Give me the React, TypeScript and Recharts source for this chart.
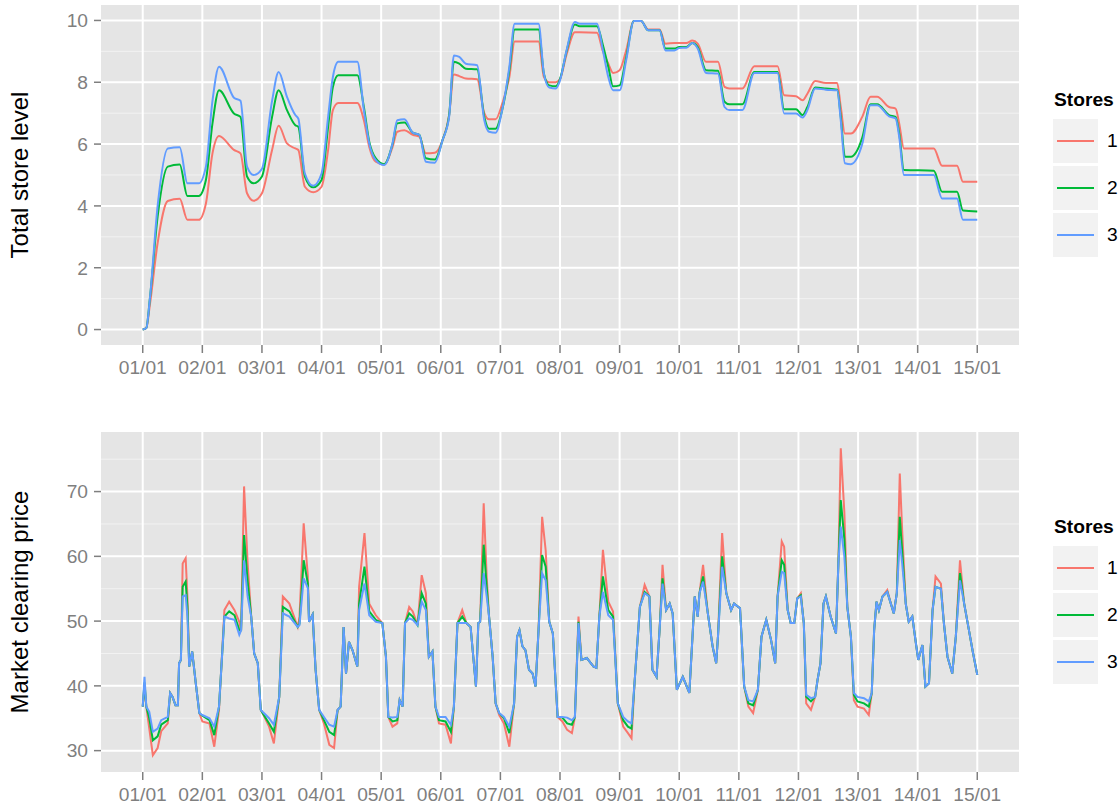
import { LineChart, Line, XAxis, YAxis, CartesianGrid } from "recharts";

const dayTicks = [0, 1, 2, 3, 4, 5, 6, 7, 8, 9, 10, 11, 12, 13, 14];
const dayLabels = [
  "01/01", "02/01", "03/01", "04/01", "05/01", "06/01", "07/01", "08/01",
  "09/01", "10/01", "11/01", "12/01", "13/01", "14/01", "15/01",
];
const storeNames = ["1", "2", "3"];
const storeColors = ["#F8766D", "#00BA38", "#619CFF"];

// store level (days since 01/01)
const levelDays = [
  0, 0.06, 0.12, 0.25, 0.42, 0.62, 0.75, 0.94, 1.06, 1.17,
  1.28, 1.53, 1.64, 1.75, 1.86, 2.0, 2.17, 2.28, 2.42, 2.56,
  2.61, 2.72, 2.86, 3.0, 3.11, 3.19, 3.28, 3.6, 3.71, 3.8,
  3.91, 4.05, 4.19, 4.27, 4.39, 4.53, 4.64, 4.75, 4.9, 5.03,
  5.14, 5.22, 5.31, 5.42, 5.61, 5.73, 5.81, 5.92, 6.03, 6.15,
  6.24, 6.64, 6.73, 6.82, 6.93, 7.0, 7.11, 7.25, 7.33, 7.62,
  7.72, 7.81, 7.89, 8.0, 8.11, 8.24, 8.36, 8.48, 8.67, 8.77,
  8.92, 9.0, 9.12, 9.22, 9.31, 9.45, 9.65, 9.76, 9.84, 10.06,
  10.26, 10.65, 10.76, 10.96, 11.07, 11.15, 11.28, 11.46, 11.65, 11.71,
  11.78, 11.88, 12.07, 12.21, 12.32, 12.52, 12.63, 12.69, 12.77, 13.27,
  13.41, 13.66, 13.76, 14.0,
];
const level1 = [
  0, 0.05, 0.8, 2.8, 4.16, 4.23, 3.55, 3.55, 4.08, 5.7,
  6.26, 5.81, 5.7, 4.41, 4.17, 4.41, 5.81, 6.59, 6.02, 5.86,
  5.81, 4.62, 4.44, 4.62, 5.81, 7.1, 7.33, 7.33, 6.77, 5.91,
  5.43, 5.34, 5.9, 6.4, 6.45, 6.3, 6.24, 5.7, 5.72, 6.13,
  6.94, 8.25, 8.2, 8.12, 8.1, 7.0, 6.8, 6.8, 7.3, 8.17,
  9.32, 9.32, 8.17, 8.0, 8.0, 8.1, 8.9, 9.62, 9.62, 9.6,
  9.0, 8.6, 8.3, 8.39, 9.03, 9.98, 9.98, 9.71, 9.71, 9.25,
  9.27, 9.27, 9.27, 9.35, 9.25, 8.66, 8.66, 7.85, 7.8, 7.8,
  8.52, 8.52, 7.58, 7.55, 7.42, 7.63, 8.04, 7.98, 7.98, 7.2,
  6.34, 6.34, 6.88, 7.53, 7.53, 7.2, 7.15, 6.67, 5.86, 5.86,
  5.3, 5.3, 4.78, 4.78,
];
const level2 = [
  0, 0.05, 1.0, 3.65, 5.27, 5.34, 4.32, 4.32, 4.84, 6.67,
  7.74, 6.99, 6.88, 4.95, 4.73, 4.95, 6.88, 7.74, 7.1, 6.61,
  6.56, 4.95, 4.6, 4.84, 6.56, 7.85, 8.23, 8.23, 7.2, 6.08,
  5.54, 5.35, 6.0, 6.67, 6.7, 6.37, 6.3, 5.54, 5.5, 6.13,
  6.94, 8.66, 8.6, 8.44, 8.42, 6.88, 6.5, 6.5, 7.1, 8.39,
  9.71, 9.71, 8.28, 7.9, 7.87, 8.1, 9.0, 9.87, 9.81, 9.81,
  9.2, 8.5, 7.87, 7.9, 8.8, 9.98, 9.98, 9.68, 9.68, 9.09,
  9.09, 9.14, 9.14, 9.27, 9.14, 8.39, 8.37, 7.37, 7.29, 7.29,
  8.33, 8.33, 7.13, 7.13, 6.94, 7.2, 7.83, 7.8, 7.76, 6.88,
  5.59, 5.59, 6.2, 7.29, 7.29, 6.94, 6.88, 6.35, 5.16, 5.14,
  4.46, 4.46, 3.85, 3.82,
];
const level3 = [
  0, 0.05, 1.0, 4.0, 5.86, 5.9, 4.73, 4.73, 5.27, 7.4,
  8.5, 7.5, 7.4, 5.27, 5.0, 5.2, 7.4, 8.33, 7.53, 6.94,
  6.82, 5.05, 4.65, 5.05, 6.88, 8.17, 8.66, 8.66, 7.1, 6.02,
  5.48, 5.32, 6.02, 6.77, 6.8, 6.37, 6.3, 5.43, 5.4, 6.13,
  6.88, 8.87, 8.82, 8.6, 8.55, 6.77, 6.4, 6.37, 7.1, 8.5,
  9.89, 9.89, 8.28, 7.83, 7.8, 8.06, 9.03, 9.95, 9.89, 9.89,
  9.03, 8.17, 7.74, 7.74, 8.71, 9.98, 9.98, 9.68, 9.68, 9.03,
  9.03, 9.11, 9.12, 9.27, 9.09, 8.3, 8.28, 7.2, 7.1, 7.1,
  8.3, 8.3, 6.99, 6.99, 6.86, 7.1, 7.8, 7.76, 7.74, 6.77,
  5.38, 5.35, 6.0, 7.26, 7.26, 6.9, 6.83, 6.24, 5.0, 5.0,
  4.24, 4.24, 3.55, 3.55,
];

// market clearing price
const priceDays = [
  0, 0.03, 0.06, 0.11, 0.17, 0.25, 0.31, 0.42, 0.46, 0.5,
  0.55, 0.59, 0.61, 0.64, 0.67, 0.72, 0.75, 0.78, 0.83, 0.89,
  0.95, 1.0, 1.12, 1.2, 1.28, 1.37, 1.45, 1.54, 1.62, 1.65,
  1.7, 1.76, 1.82, 1.87, 1.93, 1.98, 2.01, 2.12, 2.2, 2.29,
  2.35, 2.46, 2.6, 2.63, 2.7, 2.77, 2.79, 2.85, 2.9, 2.96,
  3.04, 3.13, 3.21, 3.27, 3.32, 3.37, 3.41, 3.46, 3.52, 3.6,
  3.63, 3.72, 3.8, 3.91, 4.02, 4.08, 4.12, 4.19, 4.27, 4.31,
  4.36, 4.4, 4.47, 4.53, 4.61, 4.68, 4.75, 4.8, 4.86, 4.91,
  4.97, 5.08, 5.17, 5.22, 5.28, 5.36, 5.43, 5.5, 5.59, 5.63,
  5.66, 5.72, 5.77, 5.81, 5.87, 5.92, 5.98, 6.06, 6.15, 6.23,
  6.28, 6.32, 6.37, 6.42, 6.48, 6.54, 6.59, 6.64, 6.7, 6.76,
  6.82, 6.88, 6.96, 7.04, 7.12, 7.2, 7.25, 7.31, 7.36, 7.45,
  7.56, 7.61, 7.66, 7.72, 7.81, 7.89, 7.97, 8.06, 8.14, 8.2,
  8.25, 8.34, 8.42, 8.5, 8.55, 8.62, 8.67, 8.72, 8.78, 8.84,
  8.89, 8.96, 9.06, 9.17, 9.26, 9.31, 9.34, 9.4, 9.48, 9.56,
  9.62, 9.65, 9.72, 9.79, 9.87, 9.92, 10.02, 10.09, 10.16, 10.24,
  10.32, 10.38, 10.46, 10.54, 10.61, 10.65, 10.72, 10.76, 10.82, 10.87,
  10.93, 10.98, 11.04, 11.09, 11.13, 11.21, 11.28, 11.32, 11.37, 11.42,
  11.46, 11.54, 11.63, 11.67, 11.71, 11.77, 11.82, 11.88, 11.93, 11.99,
  12.1, 12.18, 12.23, 12.27, 12.31, 12.35, 12.41, 12.49, 12.55, 12.6,
  12.65, 12.7, 12.74, 12.8, 12.85, 12.91, 12.97, 13.01, 13.08, 13.13,
  13.19, 13.25, 13.3, 13.39, 13.44, 13.5, 13.58, 13.64, 13.71, 13.78,
  13.86, 13.92, 14.0,
];
const price1 = [
  36.8, 40.0, 36.8, 33.4, 29.3, 30.4, 33.0, 34.2, 38.9, 38.3,
  37.0, 37.0, 43.5, 44.0, 58.9, 59.7, 53.8, 43.0, 45.3, 40.4,
  35.8, 34.5, 34.2, 30.6, 36.3, 51.7, 53.0, 51.7, 49.9, 48.6,
  70.8, 58.9, 50.7, 45.0, 43.5, 36.3, 35.8, 33.7, 31.1, 38.3,
  53.8, 52.7, 49.1, 50.7, 65.1, 56.9, 49.9, 51.0, 42.5, 36.3,
  34.2, 30.9, 30.4, 36.3, 36.8, 49.1, 41.9, 46.8, 45.5, 43.0,
  55.3, 63.6, 52.7, 50.9, 49.7, 44.5, 35.2, 33.7, 34.2, 37.8,
  36.8, 49.7, 52.2, 51.5, 49.4, 57.1, 54.3, 44.5, 45.3, 36.8,
  34.2, 34.0, 31.1, 36.8, 49.7, 51.7, 49.7, 49.1, 39.9, 49.7,
  49.9, 68.2, 56.9, 50.7, 44.5, 37.3, 35.5, 34.2, 30.6, 37.3,
  47.6, 48.6, 46.1, 45.5, 42.5, 41.9, 39.9, 48.6, 66.1, 60.9,
  49.9, 48.1, 35.2, 34.5, 33.2, 32.7, 35.2, 50.7, 44.0, 44.3,
  43.0, 42.8, 50.7, 61.0, 53.0, 51.5, 37.3, 33.7, 32.7, 31.9,
  40.4, 52.2, 55.6, 53.8, 42.5, 41.4, 48.6, 58.7, 51.7, 52.7,
  51.2, 39.4, 41.4, 38.9, 53.8, 50.7, 54.3, 58.7, 51.2, 46.1,
  43.5, 47.6, 63.6, 54.3, 51.7, 52.7, 52.0, 39.9, 36.8, 35.8,
  39.4, 47.6, 50.2, 47.1, 43.5, 53.8, 62.3, 61.5, 51.7, 49.7,
  49.7, 53.5, 54.3, 49.7, 37.3, 36.3, 38.3, 40.9, 43.5, 52.7,
  53.8, 50.7, 48.1, 58.9, 76.7, 66.8, 52.2, 47.6, 37.8, 36.8,
  36.5, 35.5, 38.9, 48.6, 53.0, 51.7, 53.8, 54.8, 52.7, 51.2,
  54.3, 72.8, 64.0, 52.7, 49.9, 50.7, 46.6, 44.0, 46.3, 39.9,
  40.4, 51.7, 56.9, 55.8, 49.7, 44.5, 41.9, 47.6, 59.4, 52.7,
  48.6, 45.5, 41.7,
];
const price2 = [
  36.8, 40.5, 36.8, 35.0, 31.6, 32.2, 34.0, 34.7, 38.9, 38.3,
  37.0, 37.0, 43.5, 44.0, 55.3, 56.1, 52.2, 43.0, 45.3, 40.4,
  35.8, 35.4, 34.7, 32.4, 36.8, 50.7, 51.5, 50.9, 48.6, 48.6,
  63.3, 56.1, 50.7, 45.0, 43.5, 36.3, 35.8, 34.2, 32.9, 38.3,
  52.2, 51.5, 49.1, 49.6, 59.4, 55.8, 49.9, 51.0, 42.5, 36.3,
  34.7, 32.9, 32.4, 36.3, 36.8, 49.1, 41.9, 46.8, 45.5, 43.0,
  52.7, 58.4, 51.5, 50.2, 49.7, 44.5, 35.2, 34.5, 34.7, 37.8,
  36.8, 49.7, 51.2, 50.7, 49.4, 54.3, 52.7, 44.5, 45.3, 36.8,
  34.7, 34.5, 32.9, 36.8, 49.7, 50.7, 49.7, 49.1, 39.9, 49.7,
  49.9, 61.8, 55.3, 50.7, 44.5, 37.3, 35.8, 35.0, 32.7, 37.3,
  47.6, 48.6, 46.1, 45.5, 42.5, 41.9, 39.9, 48.6, 60.2, 58.4,
  49.9, 48.1, 35.2, 35.1, 34.2, 34.0, 35.2, 49.9, 44.0, 44.3,
  43.0, 42.8, 50.7, 56.9, 51.7, 50.7, 37.3, 34.7, 33.7, 33.4,
  40.4, 52.2, 54.5, 53.8, 42.5, 41.4, 48.6, 56.6, 51.7, 52.7,
  51.2, 39.4, 41.4, 38.9, 53.8, 50.7, 54.3, 56.9, 51.2, 46.1,
  43.5, 47.6, 60.0, 54.3, 51.7, 52.7, 52.0, 39.9, 37.3, 37.0,
  39.4, 47.6, 50.2, 47.1, 43.5, 53.8, 59.4, 58.7, 51.7, 49.7,
  49.7, 53.5, 54.0, 49.7, 38.3, 37.6, 38.3, 40.9, 43.5, 52.7,
  53.8, 50.7, 48.1, 58.9, 68.7, 62.7, 52.2, 47.6, 38.6, 37.6,
  37.3, 36.8, 38.9, 48.6, 53.0, 51.7, 53.8, 54.5, 52.7, 51.2,
  54.3, 66.1, 60.9, 52.7, 49.9, 50.7, 46.6, 44.0, 46.3, 39.9,
  40.4, 51.7, 55.3, 55.0, 49.7, 44.5, 41.9, 47.6, 57.4, 52.7,
  48.6, 45.5, 41.7,
];
const price3 = [
  36.8, 41.4, 36.8, 36.0, 32.9, 33.4, 34.7, 35.2, 38.9, 38.3,
  37.0, 37.0, 43.5, 44.0, 53.8, 54.0, 50.7, 43.0, 45.3, 40.4,
  35.8, 35.5, 35.0, 33.7, 36.8, 50.7, 50.4, 50.2, 47.9, 48.6,
  59.4, 53.8, 50.7, 45.0, 43.5, 36.3, 36.0, 35.0, 34.0, 38.3,
  51.2, 50.7, 49.1, 49.4, 56.6, 55.1, 49.9, 51.0, 42.5, 36.3,
  35.2, 34.0, 33.7, 36.3, 36.8, 49.1, 41.9, 46.8, 45.5, 43.0,
  51.7, 55.8, 50.9, 49.9, 49.7, 44.5, 35.2, 35.1, 35.2, 37.8,
  36.8, 49.7, 50.4, 50.2, 49.4, 53.0, 51.7, 44.5, 45.3, 36.8,
  35.2, 35.2, 34.0, 36.8, 49.7, 49.7, 49.7, 49.1, 39.9, 49.7,
  49.9, 57.4, 53.8, 50.7, 44.5, 37.3, 35.8, 35.2, 33.7, 37.3,
  47.6, 48.6, 46.1, 45.5, 42.5, 41.9, 39.9, 48.6, 57.4, 56.3,
  49.9, 48.1, 35.2, 35.2, 35.1, 34.7, 35.2, 49.7, 44.0, 44.3,
  43.0, 42.8, 50.7, 54.5, 50.9, 50.2, 37.3, 35.2, 34.5, 34.2,
  40.4, 52.2, 54.3, 53.8, 42.5, 41.4, 48.6, 55.8, 51.7, 52.7,
  51.2, 39.4, 41.4, 38.9, 53.8, 50.7, 54.3, 56.1, 51.2, 46.1,
  43.5, 47.6, 58.4, 54.3, 51.7, 52.7, 52.0, 39.9, 37.8, 37.6,
  39.4, 47.6, 50.2, 47.1, 43.5, 53.8, 57.6, 57.4, 51.7, 49.7,
  49.7, 53.5, 53.8, 49.7, 38.6, 38.1, 38.3, 40.9, 43.5, 52.7,
  53.8, 50.7, 48.1, 58.9, 64.6, 60.0, 52.2, 47.6, 38.9, 38.3,
  38.1, 37.6, 38.9, 48.6, 53.0, 51.7, 53.8, 54.5, 52.7, 51.2,
  54.3, 62.5, 58.9, 52.7, 49.9, 50.7, 46.6, 44.0, 46.3, 39.9,
  40.4, 51.7, 55.3, 55.0, 49.7, 44.5, 41.9, 47.6, 56.3, 52.7,
  48.6, 45.5, 41.7,
];

const levelTicks = [0, 2, 4, 6, 8, 10];
const levelMinor = [1, 3, 5, 7, 9];
const priceTicks = [30, 40, 50, 60, 70];
const priceMinor = [35, 45, 55, 65, 75];

const levelRows = levelDays.map((day, i) => ({ day, s1: level1[i], s2: level2[i], s3: level3[i] }));
const priceRows = priceDays.map((day, i) => ({ day, s1: price1[i], s2: price2[i], s3: price3[i] }));

const FONT = '"Liberation Sans", Arial, Helvetica, sans-serif';
const GREY = "#7F7F7F";

function Panel({ rows, top, height, xHeight, yDomain, yTicks, yMinor, title, curve }: any) {
  return (
    <>
      <div style={{ position: "absolute", left: 0, top }}>
        <LineChart width={1020} height={height} data={rows} margin={{ top: 5, right: 1, bottom: 0, left: 0 }}>
          <CartesianGrid fill="#E5E5E5" stroke="#F2F2F2" strokeWidth={1} vertical={false} horizontalValues={yMinor} />
          <CartesianGrid stroke="#FFFFFF" strokeWidth={2} horizontalValues={yTicks} verticalValues={dayTicks} />
          <XAxis
            dataKey="day"
            type="number"
            domain={[-0.7, 14.7]}
            ticks={dayTicks}
            interval={0}
            allowDataOverflow
            tickFormatter={(d: number) => dayLabels[d]}
            height={xHeight}
            axisLine={false}
            tickSize={8}
            tickMargin={7}
            tickLine={{ stroke: GREY, strokeWidth: 1.5 }}
            tick={{ fill: GREY, fontSize: 19.2 }}
          />
          <YAxis
            type="number"
            domain={yDomain}
            ticks={yTicks}
            interval={0}
            allowDataOverflow
            width={101}
            axisLine={false}
            tickSize={7}
            tickMargin={6}
            tickLine={{ stroke: GREY, strokeWidth: 1.5 }}
            tick={{ fill: GREY, fontSize: 19.2 }}
          />
          {storeNames.map((name, i) => (
            <Line
              key={name}
              dataKey={"s" + name}
              name={name}
              type={curve}
              stroke={storeColors[i]}
              strokeWidth={2}
              dot={false}
              isAnimationActive={false}
            />
          ))}
        </LineChart>
      </div>
      <div
        style={{
          position: "absolute",
          left: 20,
          top: top + 5 + (height - 5 - xHeight) / 2,
          transform: "translate(-50%, -50%) rotate(-90deg)",
          whiteSpace: "nowrap",
          fontSize: 24,
          color: "#000",
        }}
      >
        {title}
      </div>
      <div style={{ position: "absolute", left: 1054, top: top + 89, fontSize: 19.2, fontWeight: "bold" }}>Stores</div>
      {storeNames.map((name, i) => (
        <div
          key={name}
          style={{ position: "absolute", left: 1053, top: top + 119 + i * 47, height: 44, display: "flex", alignItems: "center" }}
        >
          <div style={{ width: 45, height: 44, background: "#F2F2F2", position: "relative" }}>
            <div style={{ position: "absolute", left: 4, right: 4, top: 21, height: 2, background: storeColors[i] }} />
          </div>
          <div style={{ marginLeft: 9, fontSize: 19.2 }}>{name}</div>
        </div>
      ))}
    </>
  );
}

export default function App() {
  return (
    <div
      style={{
        position: "absolute",
        left: 0,
        top: 0,
        width: 1118,
        height: 807,
        overflow: "hidden",
        background: "#FFFFFF",
        fontFamily: FONT,
      }}
    >
      <Panel rows={levelRows} top={0} height={400} xHeight={55} yDomain={[-0.5, 10.5]} yTicks={levelTicks} yMinor={levelMinor} title="Total store level" curve="monotone" />
      <Panel rows={priceRows} top={427} height={380} xHeight={35} yDomain={[26.7, 79.2]} yTicks={priceTicks} yMinor={priceMinor} title="Market clearing price" curve="linear" />
    </div>
  );
}
